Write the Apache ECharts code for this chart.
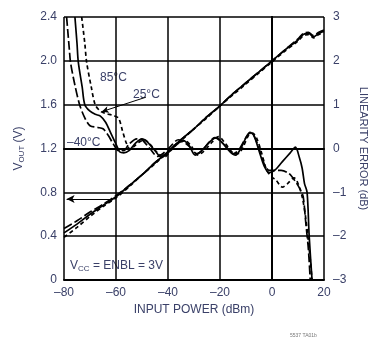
<!DOCTYPE html>
<html>
<head>
<meta charset="utf-8">
<script src="https://cdn.jsdelivr.net/npm/echarts@6/dist/echarts.min.js"></script>
<style>
html,body{margin:0;padding:0;background:#fff;}
#chart{width:377px;height:340px;}
</style>
</head>
<body>
<div id="chart"></div>
<script>
// x ticks / axis
var xTicks = [-80, -60, -40, -20, 0, 20];

// VOUT (left axis, V) vs input power
var voutX = [-80, -75, -70, -65, -60, -55, -50, -45, -40, -35, -30, -25, -20, -15, -10, -5, 0, 5, 10, 12, 14, 16, 18, 20];
var voutM40 = [0.47, 0.54, 0.62, 0.69, 0.77, 0.86, 0.96, 1.07, 1.17, 1.28, 1.38, 1.49, 1.59, 1.70, 1.80, 1.90, 2.00, 2.10, 2.20, 2.25, 2.26, 2.23, 2.26, 2.28];
var vout25  = [0.43, 0.51, 0.60, 0.68, 0.76, 0.86, 0.96, 1.07, 1.17, 1.28, 1.38, 1.49, 1.59, 1.70, 1.80, 1.90, 2.00, 2.10, 2.19, 2.24, 2.25, 2.22, 2.25, 2.27];
var vout85  = [0.39, 0.48, 0.58, 0.67, 0.75, 0.85, 0.96, 1.06, 1.17, 1.27, 1.38, 1.48, 1.59, 1.69, 1.79, 1.89, 1.99, 2.09, 2.18, 2.23, 2.24, 2.21, 2.24, 2.26];

// linearity error (right axis, dB): [dBm, dB]
var errM40 = [[-79,3.0],[-78,2.3],[-77.5,1.97],[-76,1.5],[-74,1.0],[-72,0.7],[-70,0.52],[-67,0.48],[-65,0.45],[-63,0.3],[-61,0.1],[-59,-0.05],[-57,-0.05],[-55,0.1],[-52,0.22],[-50,0.2],[-47,0.0],[-44,-0.18],[-42,-0.12],[-39,0.05],[-36,0.2],[-34,0.15],[-31,0.0],[-29,-0.12],[-27,-0.05],[-24,0.15],[-22,0.25],[-20,0.18],[-17,0.0],[-15,-0.12],[-13,-0.05],[-10,0.25],[-8.5,0.35],[-7,0.3],[-5,0.0],[-3,-0.35],[-1,-0.5],[1,-0.5],[3.5,-0.5],[6.5,-0.57],[9,-0.75],[11,-0.95],[12,-1.1],[13,-1.7],[14,-2.3],[14.7,-3]];
var err25 = [[-75.8,3],[-75,2.4],[-74.5,1.97],[-73,1.4],[-72,1.0],[-70,0.85],[-68,0.78],[-66,0.74],[-64,0.6],[-62,0.35],[-60,0.1],[-58.5,-0.08],[-57,-0.1],[-55,-0.05],[-52.5,0.12],[-50,0.22],[-48,0.15],[-45,-0.05],[-42.5,-0.2],[-40,-0.1],[-37,0.1],[-34,0.18],[-32,0.08],[-29.5,-0.15],[-27,-0.05],[-24,0.15],[-21.5,0.25],[-19,0.12],[-16,-0.08],[-14,-0.15],[-12,0.0],[-10,0.25],[-8.5,0.37],[-7,0.3],[-5,-0.05],[-3,-0.4],[-1,-0.55],[1,-0.5],[4,-0.3],[7,-0.1],[9,0.03],[10.5,-0.2],[11.6,-0.45],[12.5,-0.8],[13.5,-1.0],[14.3,-2.0],[15.4,-3]];
var err85 = [[-73.2,3],[-72,2.4],[-71.3,1.97],[-69.5,1.4],[-68,1.0],[-66,0.85],[-64,0.8],[-61,0.75],[-59,0.69],[-57.5,0.4],[-56,0.12],[-54.5,-0.02],[-53,0.05],[-51,0.15],[-49,0.2],[-47,0.1],[-44,-0.1],[-41.5,-0.2],[-39,-0.05],[-36,0.12],[-33.5,0.18],[-31,0.05],[-28.5,-0.15],[-26,-0.05],[-23,0.15],[-20.5,0.27],[-18,0.12],[-15,-0.1],[-13,-0.12],[-11,0.05],[-9,0.3],[-7.5,0.35],[-6,0.25],[-4,-0.1],[-2,-0.5],[0,-0.65],[1.5,-0.72],[4,-0.88],[6,-0.8],[8.5,-0.67],[10,-0.8],[11.6,-1.1],[13,-1.6],[14.5,-2.4],[15.4,-3]];

var FONT = "'Liberation Sans Narrow','Arial Narrow','Liberation Sans',sans-serif";
var TXT = '#3a4068';
var dashLong = [9, 3];
var dashShort = [4, 3];

function pairs(xs, ys) {
    var out = [];
    for (var i = 0; i < xs.length; i++) out.push([xs[i], ys[i]]);
    return out;
}
function dash(v) { return String(v).replace('-', '\u2013'); }

var myChart = echarts.init(document.getElementById('chart'));

function line(name, data, yIdx, type) {
    return {
        name: name, type: 'line', yAxisIndex: yIdx, data: data,
        showSymbol: false, smooth: 0.3, animation: false,
        lineStyle: {color: '#000', width: 1.7, type: type},
        z: 3
    };
}

var series = [
    line('vout-40', pairs(voutX, voutM40), 0, dashLong),
    line('vout25', pairs(voutX, vout25), 0, 'solid'),
    line('vout85', pairs(voutX, vout85), 0, dashShort),
    line('err-40', errM40, 1, dashLong),
    line('err25', err25, 1, 'solid'),
    line('err85', err85, 1, dashShort)
];
// arrow showing VOUT uses left axis
series[1].markLine = {
    silent: true, symbol: ['none', 'arrow'], symbolSize: [6, 8],
    label: {show: false},
    lineStyle: {color: '#000', width: 1.2, type: 'solid'},
    data: [[{coord: [-62, 0.74]}, {coord: [-79, 0.74]}]]
};
// 25°C pointer
series[4].markLine = {
    silent: true, symbol: ['none', 'arrow'], symbolSize: [5, 7],
    label: {show: false},
    lineStyle: {color: '#000', width: 1, type: 'solid'},
    data: [[{coord: [-48.5, 1.17]}, {coord: [-65.5, 0.84]}]]
};

myChart.setOption({
    backgroundColor: '#fff',
    animation: false,
    grid: {left: 64, right: 50, top: 17, bottom: 60},
    xAxis: [{
        type: 'value', min: -80, max: 20, interval: 20,
        name: 'INPUT POWER (dBm)', nameLocation: 'middle', nameGap: 24,
        nameTextStyle: {fontFamily: FONT, fontSize: 12, color: TXT},
        axisLine: {show: true, lineStyle: {color: '#000', width: 2}},
        axisTick: {show: false},
        axisLabel: {fontFamily: FONT, fontSize: 12, color: TXT, margin: 7, formatter: dash},
        splitLine: {show: true, lineStyle: {color: '#000', width: 1.5}}
    }, {
        type: 'value', min: -80, max: 20, interval: 20, position: 'top',
        axisLine: {show: true, lineStyle: {color: '#000', width: 2}},
        axisTick: {show: false}, axisLabel: {show: false}, splitLine: {show: false}
    }],
    yAxis: [{
        type: 'value', min: 0, max: 2.4, interval: 0.4, position: 'left',
        name: '{a|V}{s|OUT}{a| (V)}', nameLocation: 'middle', nameGap: 38, nameRotate: 90,
        nameTextStyle: {rich: {
            a: {fontFamily: FONT, fontSize: 12, color: TXT},
            s: {fontFamily: FONT, fontSize: 8, color: TXT, padding: [6, 0, 0, 0]}
        }},
        axisLine: {show: true, lineStyle: {color: '#000', width: 2}},
        axisTick: {show: false},
        axisLabel: {fontFamily: FONT, fontSize: 12, color: TXT, margin: 7,
            formatter: function (v) { return v === 0 ? '0' : v.toFixed(1); }},
        splitLine: {show: true, lineStyle: {color: '#000', width: 1.5}}
    }, {
        type: 'value', min: -3, max: 3, interval: 1, position: 'right',
        name: 'LINEARITY ERROR (dB)', nameLocation: 'middle', nameGap: 34, nameRotate: -90,
        nameTextStyle: {fontFamily: FONT, fontSize: 11, color: TXT},
        axisLine: {show: true, lineStyle: {color: '#000', width: 2}},
        axisTick: {show: false},
        axisLabel: {fontFamily: FONT, fontSize: 12, color: TXT, margin: 9, formatter: dash},
        splitLine: {show: false}
    }],
    graphic: [
        {type: 'text', left: 100, top: 72, style: {text: '85\u00b0C', font: '12px ' + FONT, fill: TXT}},
        {type: 'text', left: 133, top: 89, style: {text: '25\u00b0C', font: '12px ' + FONT, fill: TXT}},
        {type: 'text', left: 67, top: 137, style: {text: '\u201340\u00b0C', font: '12px ' + FONT, fill: TXT}},
        {type: 'text', left: 70, top: 260, style: {
            text: '{a|V}{s|CC}{a| = ENBL = 3V}',
            rich: {
                a: {fontFamily: FONT, fontSize: 12, fill: TXT},
                s: {fontFamily: FONT, fontSize: 8, fill: TXT, padding: [6, 0, 0, 0]}
            }
        }},
        {type: 'text', left: 290, top: 333, style: {text: '5537 TA01b', font: '5px ' + FONT, fill: '#777'}}
    ],
    series: series
});

window.onresize = function () {
    myChart.resize();
};
</script>
</body>
</html>
